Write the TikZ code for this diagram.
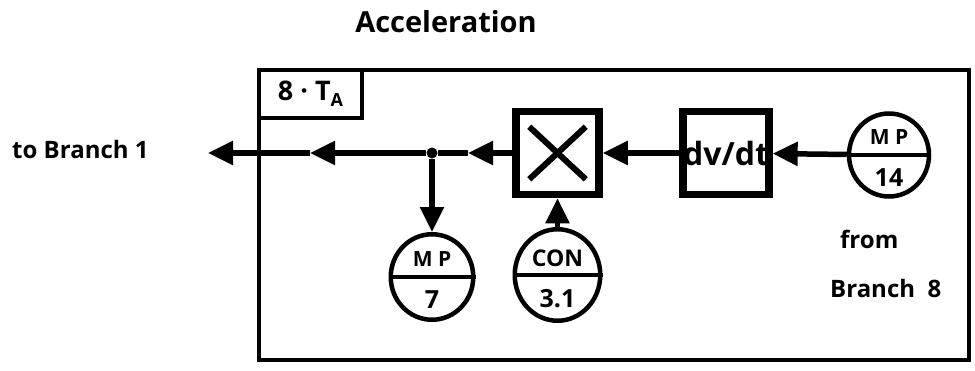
\documentclass[tikz,border=0pt]{standalone}
\usepackage{fontspec}
\setmainfont{Open Sans}
\usetikzlibrary{arrows.meta,shapes.geometric}
\begin{document}
\begin{tikzpicture}[x=1pt,y=-1pt,
  txt/.style={inner sep=0pt, font=\fontsize{24}{28}\selectfont\bfseries},
  conn/.style={line width=5.5pt},
  arr/.style={-{Triangle[length=25pt,width=23pt]}},
  opbox/.style={draw, line width=7.5pt, minimum width=83pt, minimum height=83pt, inner sep=0pt},
  disc/.style={draw, ellipse, line width=4.5pt, inner sep=0pt},
  divline/.style={line width=4.5pt},
  frame/.style={draw, line width=4pt, inner sep=0pt},
  jdot/.style={circle, fill, inner sep=0pt, minimum size=11pt},
  uptxt/.style={inner sep=0pt, anchor=base, font=\fontsize{21}{24}\selectfont\bfseries},
  lowtxt/.style={inner sep=0pt, anchor=base, font=\fontsize{25}{28}\selectfont\bfseries},
  crossline/.style={line width=6pt}
]
\useasboundingbox (0,0) rectangle (975,370);

% frame and header box
\node[frame, minimum width=710pt, minimum height=290pt] (frame) at (614,215) {};
\node[frame, anchor=north west, minimum width=103pt, minimum height=48pt,
      font=\fontsize{27}{30}\selectfont\bfseries] (ta) at (frame.north west)
      {8 · T\raisebox{-6pt}{\fontsize{18}{20}\selectfont A}};

% title and labels
\node[txt, anchor=base, font=\fontsize{29}{34}\selectfont\bfseries] (title) at (446,32) {Acceleration};
\node[txt, anchor=base west] (tobr) at (12,158) {to Branch 1};
\node[txt, anchor=base west] (from) at (840,248) {from};
\node[txt, anchor=base west] (br8) at (830,297) {Branch\ \ 8};

% operator boxes
\node[opbox] (X) at (557.5,153) {};
\draw[crossline] ([xshift=17pt,yshift=-19pt]X.north west) -- ([xshift=-17pt,yshift=19pt]X.south east);
\draw[crossline] ([xshift=17pt,yshift=19pt]X.south west) -- ([xshift=-17pt,yshift=-19pt]X.north east);
\node[opbox, font=\fontsize{32}{36}\selectfont\bfseries] (dvdt) at (726,153) {dv/dt};

% measuring points / constant
\node[disc, minimum width=80pt, minimum height=83pt] (mp14) at (889,155) {};
\draw[divline] (mp14.west) -- (mp14.east);
\node[uptxt] (mp14u) at ([yshift=11pt]mp14.center) {M P};
\node[lowtxt] (mp14l) at ([yshift=-31pt]mp14.center) {14};

\node[disc, minimum width=82.5pt, minimum height=85.5pt] (mp7) at (432,277) {};
\draw[divline] (mp7.west) -- (mp7.east);
\node[uptxt] (mp7u) at ([yshift=11pt]mp7.center) {M P};
\node[lowtxt] (mp7l) at ([yshift=-31pt]mp7.center) {7};

\node[disc, minimum width=85.5pt, minimum height=91.5pt] (con) at (557.5,275) {};
\draw[divline] (con.west) -- (con.east);
\node[uptxt, font=\fontsize{23}{26}\selectfont\bfseries] (conu) at ([yshift=9pt]con.center) {CON};
\node[lowtxt] (conl) at ([yshift=-32pt]con.center) {3.1};

% junction and arrow points
\node[jdot] (jct) at (432,153) {};
\coordinate (m1) at (468,153);
\coordinate (m2) at (310,153);
\coordinate (out) at (208,153);

% connectors
\draw[conn, arr] (mp14) -- (dvdt);
\draw[conn, arr] (dvdt) -- (X);
\draw[conn, arr] (X.west) -- (m1);
\draw[conn] (m1) -- (jct);
\draw[conn, arr] (jct) -- (m2);
\draw[conn, arr] (m2) -- (out);
\draw[conn, arr] (jct) -- (mp7);
\draw[conn, arr] (con) -- (X);
\end{tikzpicture}
\end{document}
